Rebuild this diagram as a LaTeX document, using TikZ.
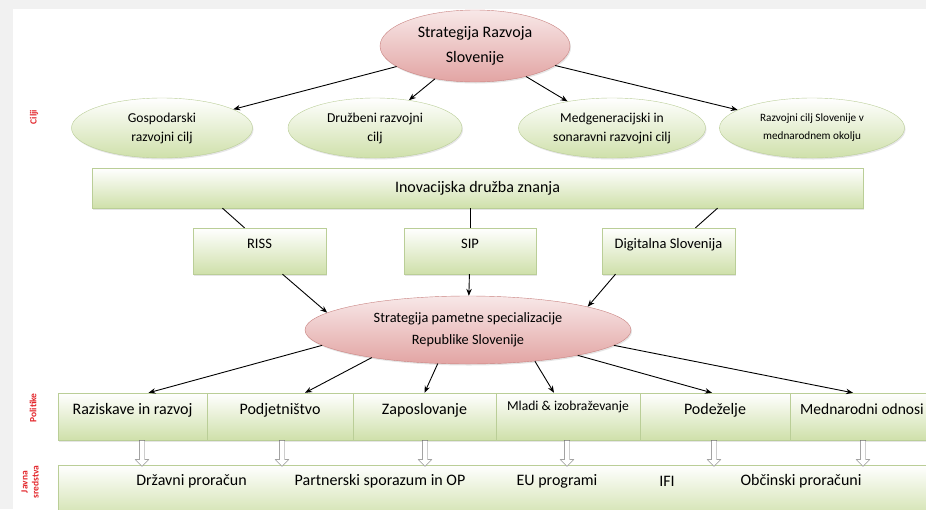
\documentclass[tikz,border=0pt]{standalone}
\usepackage{fontspec}
\setmainfont{Carlito}
\usetikzlibrary{shapes.geometric,shapes.arrows,shadows,arrows.meta}

\definecolor{leafgreen}{HTML}{CFE0AA}
\definecolor{leafline}{HTML}{BACE97}
\definecolor{rosefill}{HTML}{E2A4A3}
\definecolor{roseline}{HTML}{C98381}
\definecolor{tagred}{HTML}{E3262B}
\definecolor{sidegray}{HTML}{F1F1F1}

\tikzset{
	rootell/.style={ellipse, draw=roseline, top color=rosefill!25, bottom color=rosefill, inner sep=0pt, align=center,
		font=\fontsize{16}{25}\selectfont, drop shadow={opacity=.2, shadow xshift=1pt, shadow yshift=-1.5pt}},
	goal/.style={ellipse, draw=leafline, top color=white, bottom color=leafgreen, inner sep=0pt, align=center,
		font=\fontsize{13.6}{19}\selectfont, drop shadow={opacity=.2, shadow xshift=1pt, shadow yshift=-1.5pt}},
	greenbox/.style={rectangle, draw=leafline, top color=white, bottom color=leafgreen, inner sep=4pt,
		font=\fontsize{16}{18}\selectfont, drop shadow={opacity=.2, shadow xshift=1pt, shadow yshift=-1.5pt}},
	toolbox/.style={greenbox, font=\fontsize{14.5}{16}\selectfont, text height=16pt, text depth=22pt},
	polcell/.style={greenbox, drop shadow={opacity=0}, text height=17pt, text depth=22pt},
	hollow/.style={single arrow, draw=black!55, fill=white, shape border rotate=270, minimum height=26pt,
		inner sep=2.5pt, single arrow head extend=4pt},
	tag/.style={text=tagred, font=\fontsize{9.5}{11}\selectfont\bfseries, rotate=90, align=center},
	conn/.style={-{Stealth[length=7pt,width=5.5pt]}, line width=0.9pt},
	link/.style={line width=0.9pt}
}

\begin{document}
\begin{tikzpicture}[x=1pt, y=-1pt]
	\clip (0,0) rectangle (926,509);
	\fill[sidegray] (0,0) rectangle (926,509);
	\fill[white] (13,9) rectangle (926,509);

	% goals
	\node[rootell, minimum width=190pt, minimum height=72pt] (srs) at (475,46) {Strategija Razvoja\\Slovenije};

	\node[goal, minimum width=181pt, minimum height=60pt] (gosp) at (162,128) {Gospodarski\\razvojni cilj};
	\node[goal, minimum width=174pt, minimum height=60pt] (druz) at (375,128) {Družbeni razvojni\\cilj};
	\node[goal, minimum width=187pt, minimum height=60pt] (medg) at (612,128) {Medgeneracijski in\\sonaravni razvojni cilj};
	\node[goal, minimum width=185pt, minimum height=60pt, font=\fontsize{11.2}{18}\selectfont] (medn) at (812,128) {Razvojni cilj Slovenije v\\mednarodnem okolju};

	\draw[conn] (srs) -- (gosp);
	\draw[conn] (srs) -- (druz);
	\draw[conn] (srs) -- (medg);
	\draw[conn] (srs) -- (medn);

	\node[greenbox, minimum width=771pt, minimum height=40pt] (inov) at (477.5,188) {Inovacijska družba znanja};

	\node[toolbox, minimum width=133pt] (riss) at (259.5,251) {RISS};
	\node[toolbox, minimum width=132pt] (sip) at (470,251) {SIP};
	\node[toolbox, minimum width=133pt] (dig) at (668.5,251) {Digitalna Slovenija};

	\draw[link] ([xshift=-255pt]inov.south) -- ([xshift=-15pt]riss.north);
	\draw[link] (sip.north |- inov.south) -- (sip.north);
	\draw[link] ([xshift=240pt]inov.south) -- ([xshift=27pt]dig.north);

	\node[rootell, minimum width=326pt, minimum height=68pt, font=\fontsize{14.3}{22}\selectfont] (sps) at (468,330) {Strategija pametne specializacije\\Republike Slovenije};

	\draw[conn] ([xshift=23pt]riss.south) -- (sps.173);
	\draw[conn] (sip) -- (sps);
	\draw[conn] ([xshift=-53pt]dig.south) -- (sps.11);

	% policies
	\node[polcell, minimum width=149pt] (pol1) at (132.5,416.5) {Raziskave in razvoj};
	\node[polcell, minimum width=146pt] (pol2) at (280,416.5) {Podjetništvo};
	\node[polcell, minimum width=143pt] (pol3) at (424.5,416.5) {Zaposlovanje};
	\node[polcell, minimum width=144pt, font=\fontsize{13.6}{15}\selectfont, text height=13pt, text depth=26pt] (pol4) at (568,416.5) {Mladi \& izobraževanje};
	\node[polcell, minimum width=150pt] (pol5) at (715,416.5) {Podeželje};
	\node[polcell, minimum width=144pt, font=\fontsize{15.5}{18}\selectfont] (pol6) at (862,416.5) {Mednarodni odnosi};

	\draw[conn] (sps.186) -- ([xshift=16pt]pol1.north);
	\draw[conn] (sps.196) -- ([xshift=25pt]pol2.north);
	\draw[conn] (sps.228) -- (pol3.north);
	\draw[conn] (sps.335) -- ([xshift=-14pt]pol4.north);
	\draw[conn] (sps.347) -- ([xshift=-3pt]pol5.north);
	\draw[conn] (sps.354) -- ([xshift=-9pt]pol6.north);

	% public funds
	\node[greenbox, drop shadow={opacity=0}, minimum width=892pt, minimum height=55pt] (funds) at (504,492.5) {};
	\node[font=\fontsize{16}{18}\selectfont] (fund1) at (191.5,481) {Državni proračun};
	\node[font=\fontsize{16}{18}\selectfont] (fund2) at (380,481) {Partnerski sporazum in OP};
	\node[font=\fontsize{16}{18}\selectfont] (fund3) at (557,481) {EU programi};
	\node[font=\fontsize{16}{18}\selectfont] (fund4) at (667,481) {IFI};
	\node[font=\fontsize{16}{18}\selectfont] (fund5) at (801,481) {Občinski proračuni};

	\node[hollow] (down1) at (142,452) {};
	\node[hollow] (down2) at (282,452) {};
	\node[hollow] (down3) at (425,452) {};
	\node[hollow] (down4) at (567,452) {};
	\node[hollow] (down5) at (714,452) {};
	\node[hollow] (down6) at (863,452) {};

	% side labels
	\node[tag] (cilji) at (34,117) {Cilji};
	\node[tag] (politike) at (33,408) {Politike};
	\node[tag] (javna) at (30,482) {Javna\\sredstva};
\end{tikzpicture}
\end{document}
